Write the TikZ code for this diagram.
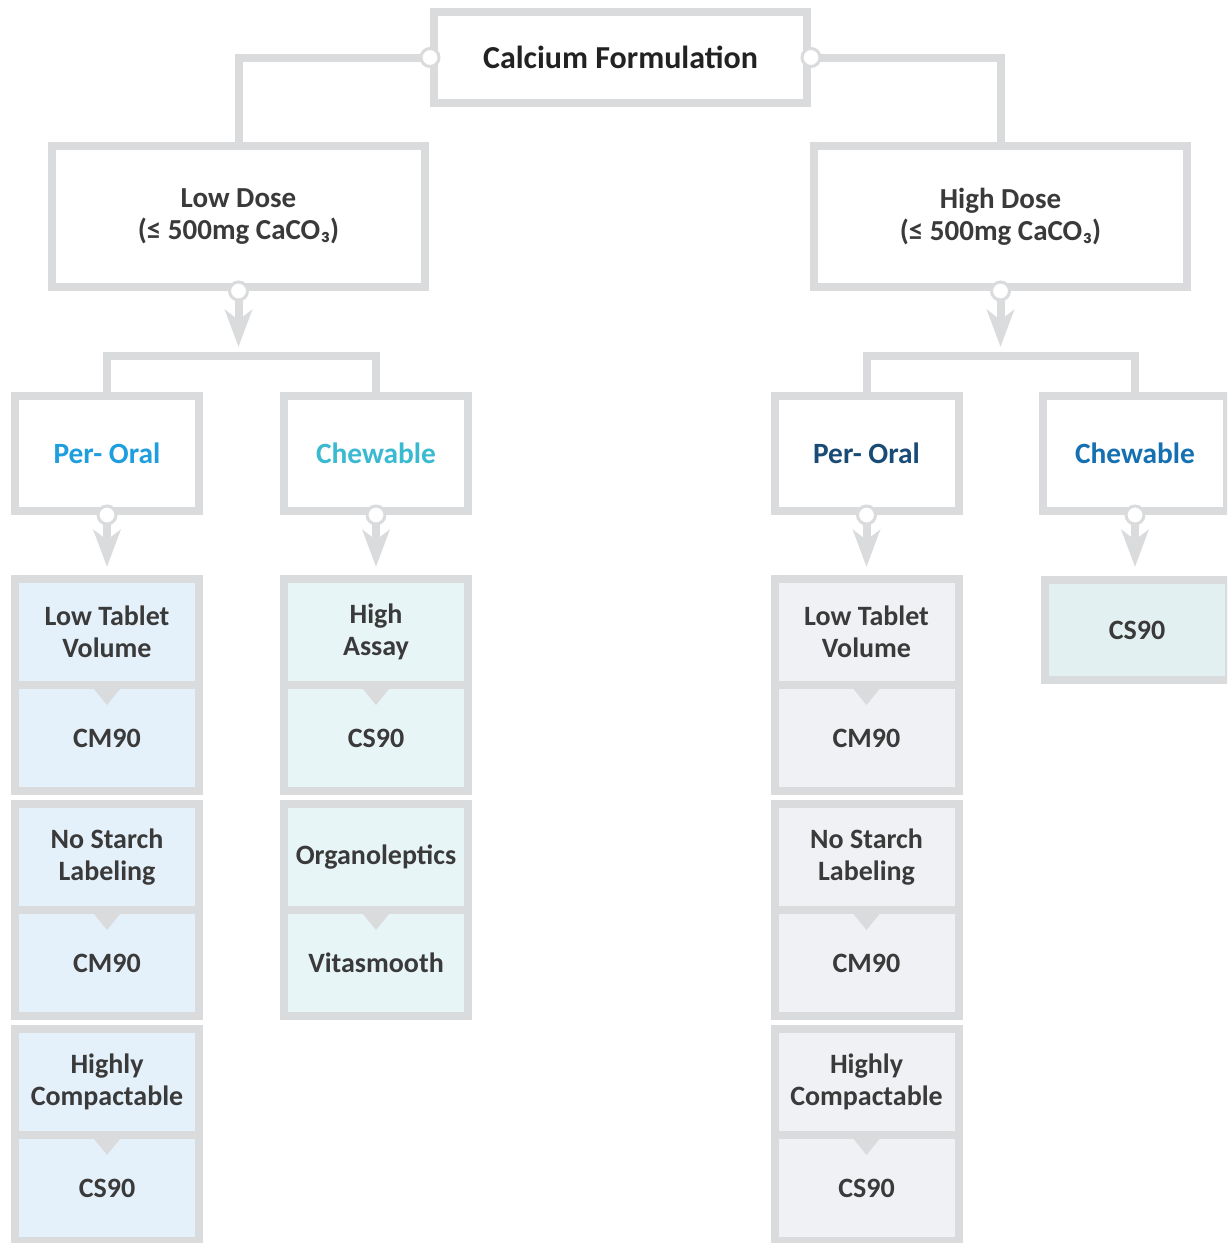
\documentclass[tikz,border=0pt]{standalone}
\usepackage{fontspec}
\setmainfont{Carlito}
\usetikzlibrary{arrows.meta}

\definecolor{edgegray}{RGB}{218,219,221}
\definecolor{ink}{RGB}{58,58,58}
\definecolor{titleink}{RGB}{34,34,34}
\definecolor{loralfill}{RGB}{229,241,250}
\definecolor{lchewfill}{RGB}{232,245,247}
\definecolor{roralfill}{RGB}{240,241,244}
\definecolor{rchewfill}{RGB}{227,240,241}
\definecolor{loralink}{RGB}{30,158,222}
\definecolor{lchewink}{RGB}{58,186,208}
\definecolor{roralink}{RGB}{24,76,118}
\definecolor{rchewink}{RGB}{20,112,176}

\tikzset{
  box/.style = {draw = edgegray, line width = 4pt, fill = white, align = center,
                inner sep = 0pt, text = ink, font = \bfseries\fontsize{14}{16}\selectfont},
  dosebox/.style = {box, minimum width = 186.5pt, minimum height = 70.5pt,
                    font = \bfseries\fontsize{14.5}{16}\selectfont},
  formbox/.style = {box, minimum width = 92pt, minimum height = 57.5pt,
                    font = \bfseries\fontsize{14.7}{16}\selectfont},
  part/.style = {box, minimum width = 92pt, minimum height = 53pt},
  link/.style = {draw = edgegray, line width = 4pt},
  down/.style = {link, -{Stealth[length = 18.5pt, width = 13.5pt, inset = 5pt]}},
  dot/.style = {circle, draw = edgegray, fill = white, line width = 1.5pt,
                minimum size = 9pt, inner sep = 0pt}
}

\newcommand{\notch}[1]{\fill [edgegray] (#1.south) ++(-13,0) -- ++(26,0) -- ++(-13,16) -- cycle;}

\begin{document}
\begin{tikzpicture} [x = 0.5pt, y = -0.5pt, node distance = 53pt]

\clip (0,0) rectangle (1227,1243);

\node [box, minimum width = 186.5pt, minimum height = 45.5pt, text = titleink,
       font = \bfseries\fontsize{16}{18}\selectfont] (calcium) at (620.5,57.5) {Calcium Formulation};

\node [dosebox] (low) at (238.5,216.5) {Low Dose\\(≤ 500mg CaCO₃)};
\node [dosebox] (high) at (1000.5,216.5) {High Dose\\(≤ 500mg CaCO₃)};

\draw [link] (calcium.west) -| (low.north);
\draw [link] (calcium.east) -| (high.north);
\node [dot] (calciumw) at (calcium.west) {};
\node [dot] (calciume) at (calcium.east) {};

\node [formbox, text = loralink] (loral) at (107,453.5) {Per- Oral};
\node [formbox, text = lchewink] (lchew) at (376,453.5) {Chewable};
\node [formbox, text = roralink] (roral) at (866.5,453.5) {Per- Oral};
\node [formbox, text = rchewink] (rchew) at (1135,453.5) {Chewable};

\coordinate (lowtip) at (238.5,347);
\coordinate (hightip) at (1000.5,347);
\draw [down] (low.south) -- (lowtip);
\draw [down] (high.south) -- (hightip);
\node [dot] (lowdot) at (low.south) {};
\node [dot] (highdot) at (high.south) {};

\draw [link] (loral.north) -- ++(0,-36) -| (lchew.north);
\draw [link] (roral.north) -- ++(0,-36) -| (rchew.north);

% low dose, per-oral
\node [part, fill = loralfill] (ltablet) at (107,632) {Low Tablet\\Volume};
\node [part, fill = loralfill] (lcm1) [below of = ltablet] {CM90};
\notch{ltablet}
\node [part, fill = loralfill] (lstarch) at (107,857) {No Starch\\Labeling};
\node [part, fill = loralfill] (lcm2) [below of = lstarch] {CM90};
\notch{lstarch}
\node [part, fill = loralfill] (lcompact) at (107,1082) {Highly\\Compactable};
\node [part, fill = loralfill] (lcs1) [below of = lcompact] {CS90};
\notch{lcompact}

% low dose, chewable
\node [part, fill = lchewfill] (lassay) at (376,632) {High\\Assay};
\node [part, fill = lchewfill] (lcs2) [below of = lassay] {CS90};
\notch{lassay}
\node [part, fill = lchewfill] (lorgano) at (376,857) {Organoleptics};
\node [part, fill = lchewfill] (lvita) [below of = lorgano] {Vitasmooth};
\notch{lorgano}

% high dose, per-oral
\node [part, fill = roralfill] (rtablet) at (866.5,632) {Low Tablet\\Volume};
\node [part, fill = roralfill] (rcm1) [below of = rtablet] {CM90};
\notch{rtablet}
\node [part, fill = roralfill] (rstarch) at (866.5,857) {No Starch\\Labeling};
\node [part, fill = roralfill] (rcm2) [below of = rstarch] {CM90};
\notch{rstarch}
\node [part, fill = roralfill] (rcompact) at (866.5,1082) {Highly\\Compactable};
\node [part, fill = roralfill] (rcs1) [below of = rcompact] {CS90};
\notch{rcompact}

% high dose, chewable
\node [box, fill = rchewfill, minimum width = 92pt, minimum height = 50pt] (rcs2) at (1137,630) {CS90};

\coordinate (loraltip) at (107,567);
\coordinate (lchewtip) at (376,567);
\coordinate (roraltip) at (866.5,567);
\coordinate (rchewtip) at (1135,567);
\draw [down] (loral.south) -- (loraltip);
\draw [down] (lchew.south) -- (lchewtip);
\draw [down] (roral.south) -- (roraltip);
\draw [down] (rchew.south) -- (rchewtip);
\node [dot] (loraldot) at (loral.south) {};
\node [dot] (lchewdot) at (lchew.south) {};
\node [dot] (roraldot) at (roral.south) {};
\node [dot] (rchewdot) at (rchew.south) {};

\end{tikzpicture}
\end{document}
